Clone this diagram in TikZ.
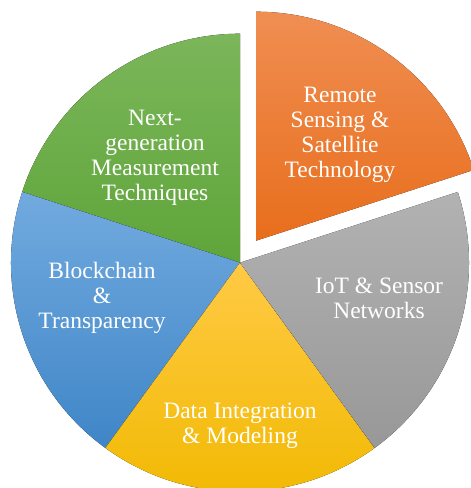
\documentclass[tikz,border=0pt]{standalone}
\usepackage{fontspec}
\setmainfont{Liberation Serif}
\definecolor{orT}{HTML}{F08E52}
\definecolor{orB}{HTML}{E86E1C}
\definecolor{grT}{HTML}{7BB65A}
\definecolor{grB}{HTML}{5FA53A}
\definecolor{blT}{HTML}{72AADF}
\definecolor{blB}{HTML}{3F86C7}
\definecolor{yeT}{HTML}{FFCA45}
\definecolor{yeB}{HTML}{F1B900}
\definecolor{gyT}{HTML}{B2B2B2}
\definecolor{gyB}{HTML}{989898}
\tikzset{
  lbl/.style={text=white, align=center, inner sep=0pt, font=\fontsize{23.5}{24.8}\selectfont},
}
\begin{document}
\begin{tikzpicture}[x=1pt,y=1pt]
\useasboundingbox (0,0) rectangle (471,488);
\clip (0,0) rectangle (471,488);
\fill[white] (0,0) rectangle (471,488);
\def\R{229}
\coordinate (C) at (240,225.3);
\coordinate (O) at (256,247.3);
% slices
\fill[top color=grT, bottom color=grB] (C) -- ++(90:\R) arc[start angle=90,end angle=162,radius=\R] -- cycle;
\fill[top color=blT, bottom color=blB] (C) -- ++(162:\R) arc[start angle=162,end angle=234,radius=\R] -- cycle;
\fill[top color=yeT, bottom color=yeB] (C) -- ++(234:\R) arc[start angle=234,end angle=306,radius=\R] -- cycle;
\fill[top color=gyT, bottom color=gyB] (C) -- ++(306:\R) arc[start angle=306,end angle=378,radius=\R] -- cycle;
\fill[top color=orT, bottom color=orB] (O) -- ++(18:\R) arc[start angle=18,end angle=90,radius=\R] -- cycle;
% labels
\node[lbl] (ngm) at (155,330) {Next-\\generation\\Measurement\\Techniques};
\node[lbl] (rss) at (340,353) {Remote\\Sensing \&\\Satellite\\Technology};
\node[lbl] (bct) at (102,190) {Blockchain\\\&\\Transparency};
\node[lbl] (iot) at (379,190) {IoT \& Sensor\\Networks};
\node[lbl] (dim) at (240,62) {Data Integration\\\& Modeling};
\end{tikzpicture}
\end{document}
